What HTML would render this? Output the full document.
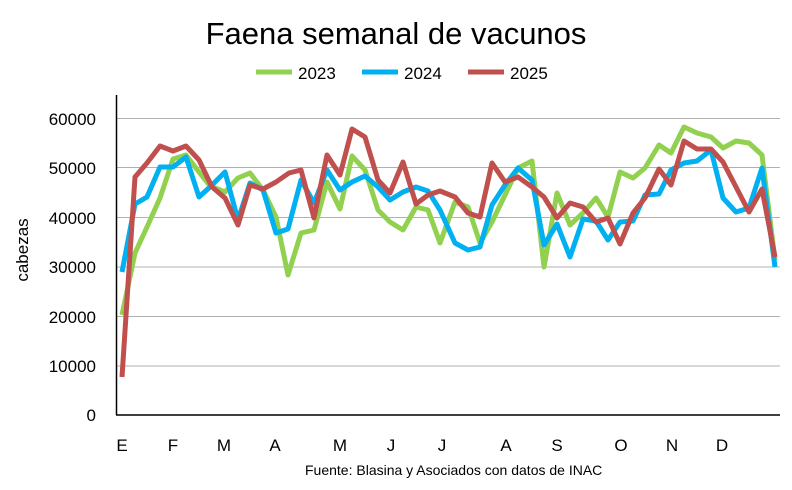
<!DOCTYPE html>
<html><head><meta charset="utf-8"><style>
body{margin:0;background:#fff;}
svg text{font-family:"Liberation Sans",sans-serif;fill:#000;}
</style></head><body>
<svg width="792" height="485" viewBox="0 0 792 485" xmlns="http://www.w3.org/2000/svg">
<rect width="792" height="485" fill="#fff"/>
<text x="396" y="44" font-size="31" text-anchor="middle">Faena semanal de vacunos</text>
<line x1="256" y1="72" x2="292" y2="72" stroke="#92D050" stroke-width="5"/>
<text x="298" y="79" font-size="17">2023</text>
<line x1="362" y1="72" x2="398" y2="72" stroke="#00B0F0" stroke-width="5"/>
<text x="404" y="79" font-size="17">2024</text>
<line x1="468" y1="72" x2="504" y2="72" stroke="#C0504D" stroke-width="5"/>
<text x="510" y="79" font-size="17">2025</text>
<g stroke="#b0b0b0" stroke-width="1">
<line x1="117" y1="118.5" x2="780" y2="118.5"/>
<line x1="117" y1="167.5" x2="780" y2="167.5"/>
<line x1="117" y1="217.5" x2="780" y2="217.5"/>
<line x1="117" y1="267" x2="780" y2="267"/>
<line x1="117" y1="316.5" x2="780" y2="316.5"/>
<line x1="117" y1="366" x2="780" y2="366"/>
</g>
<line x1="116.5" y1="95" x2="116.5" y2="415" stroke="#000" stroke-width="1.5"/>
<line x1="116" y1="415" x2="780" y2="415" stroke="#000" stroke-width="1.5"/>
<g font-size="17" text-anchor="end">
<text x="96" y="125">60000</text>
<text x="96" y="174">50000</text>
<text x="96" y="224">40000</text>
<text x="96" y="273">30000</text>
<text x="96" y="323">20000</text>
<text x="96" y="372">10000</text>
<text x="96" y="421">0</text>
</g>
<text transform="translate(28,250) rotate(-90)" font-size="17" text-anchor="middle">cabezas</text>
<g font-size="17" text-anchor="middle">
<text x="122" y="451">E</text><text x="173" y="451">F</text><text x="224" y="451">M</text><text x="275" y="451">A</text>
<text x="340" y="451">M</text><text x="391" y="451">J</text><text x="442" y="451">J</text><text x="506" y="451">A</text>
<text x="557" y="451">S</text><text x="621" y="451">O</text><text x="672" y="451">N</text><text x="722" y="451">D</text>
</g>
<text x="305" y="475" font-size="14">Fuente: Blasina y Asociados con datos de INAC</text>
<g fill="none" stroke-width="5" stroke-linejoin="round">
<polyline stroke="#92D050" points="122,315 135,253 147,227 160,198 173,159 186,155 199,172 210,186 225,192 238,178 250,173 263,190 276,217 288,275 301,233 314,230 327,182 340,209 352,156 365,170 378,210 390,222 403,230 416,207 428,210 440,243 455,202 468,207 480,243 492,222 505,195 518,168 532,161 544,267 557,193 570,225 583,213 596,198 608,217 620,172 633,178 645,168 659,145 671,153 684,127 697,133 711,137 723,148 736,141 749,143 762,155 775,260"/>
<polyline stroke="#00B0F0" points="122,272 135,204 147,197 160,167 173,167 186,157 199,197 210,187 225,172 238,220 250,183 263,190 276,233 288,229 301,180 314,203 327,170 340,190 352,182 365,176 378,187 390,200 403,192 416,187 428,191 440,210 455,243 468,250 480,247 492,205 505,185 518,168 532,180 544,245 557,224 570,257 583,219 596,221 608,240 620,222 633,221 645,195 659,194 671,170 684,163 697,161 711,150 723,198 736,212 749,208 762,168 775,267"/>
<polyline stroke="#C0504D" points="122,377 135,177 147,163 160,146 173,151 186,146 199,160 212,187 225,198 238,225 250,185 263,189 276,182 289,173 301,170 314,218 327,155 340,175 352,129 365,137 378,180 390,193 403,162 416,204 428,195 440,191 455,197 468,213 480,217 492,163 505,182 518,177 532,187 544,197 557,218 570,203 583,207 596,222 608,218 620,244 633,213 645,198 659,169 671,185 684,141 697,149 711,149 723,162 736,187 749,212 762,189 775,257"/>
</g>
</svg>
</body></html>
